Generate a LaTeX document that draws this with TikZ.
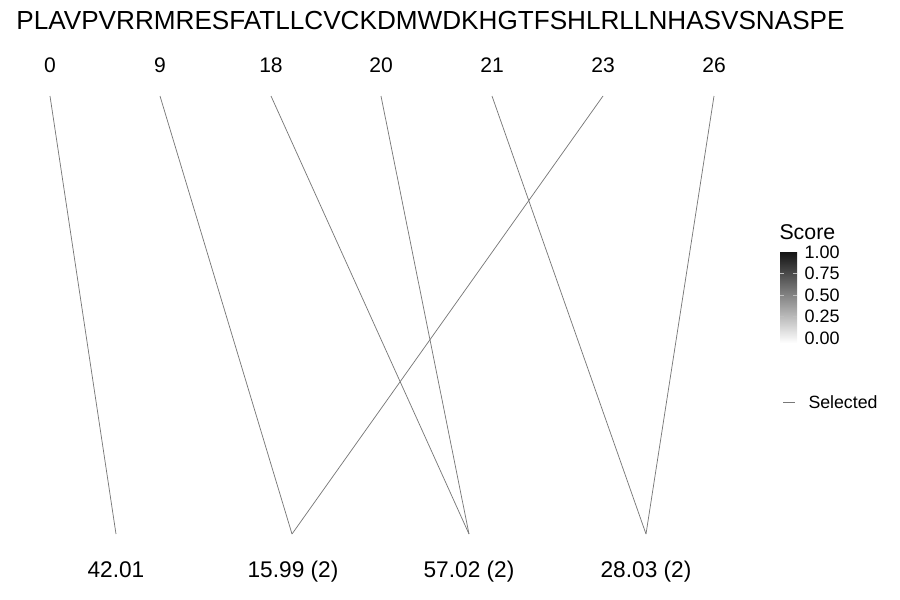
\documentclass[tikz,border=0pt]{standalone}
\usepackage{fontspec}
\setmainfont{Liberation Sans}
\usepackage{tikz}
\usepackage{xcolor}
\tikzset{every picture/.style={line width=0.75pt}}
\tikzset{
  link/.style={draw={rgb,255:red,120;green,120;blue,120}, line width=0.55pt},
  toplabel/.style={anchor=base, inner sep=0pt, font=\fontsize{15.8}{16}\selectfont},
  massl/.style={anchor=base, inner sep=0pt, font=\fontsize{17}{17}\selectfont},
  tickl/.style={anchor=west, inner sep=0pt, font=\fontsize{13.5}{13.5}\selectfont},
  tickm/.style={draw={rgb,255:red,190;green,190;blue,190}, line width=0.5pt}
}

\begin{document}
\begin{tikzpicture}[x=0.75pt,y=0.75pt,yscale=-1,xscale=1]
\useasboundingbox (0,0) rectangle (900,600);

% Text Node
\node (seq) [anchor=base, inner sep=0pt, font=\fontsize{19.6}{20}\selectfont] at (430.5,29) {PLAVPVRRMRESFATLLCVCKDMWDKHGTFSHLRLLNHASVSNASPE};

% Text Node
\node (p0) [toplabel] at (50,72) {0};
\node (p9) [toplabel] at (160,72) {9};
\node (p18) [toplabel] at (271,72) {18};
\node (p20) [toplabel] at (381,72) {20};
\node (p21) [toplabel] at (492,72) {21};
\node (p23) [toplabel] at (603,72) {23};
\node (p26) [toplabel] at (714,72) {26};

% Text Node
\node (m1) [massl] at (116,577) {42.01};
\node (m2) [massl] at (293,577) {15.99 (2)};
\node (m3) [massl] at (469,577) {57.02 (2)};
\node (m4) [massl] at (646,577) {28.03 (2)};

% line ends
\coordinate (t0) at (50,96);
\coordinate (t9) at (160,96);
\coordinate (t18) at (271,96);
\coordinate (t20) at (381,96);
\coordinate (t21) at (492,96);
\coordinate (t23) at (603,96);
\coordinate (t26) at (714,96);
\coordinate (b1) at (116,534);
\coordinate (b2) at (292,534);
\coordinate (b3) at (469,534);
\coordinate (b4) at (646,534);

%Straight Lines
\draw [link] (t0) -- (b1) ;
\draw [link] (t9) -- (b2) ;
\draw [link] (t23) -- (b2) ;
\draw [link] (t18) -- (b3) ;
\draw [link] (t20) -- (b3) ;
\draw [link] (t21) -- (b4) ;
\draw [link] (t26) -- (b4) ;

% Legend
\node (score) [anchor=west, inner sep=0pt, font=\fontsize{16}{16}\selectfont] at (779,232) {Score};
\shade [top color={rgb,255:red,20;green,20;blue,20}, bottom color=white] (780,252) rectangle (797,343);
\draw [tickm] (780,273.3) -- (784,273.3) (793,273.3) -- (797,273.3);
\draw [tickm] (780,295) -- (784,295) (793,295) -- (797,295);
\draw [tickm] (780,316.7) -- (784,316.7) (793,316.7) -- (797,316.7);
\node (s100) [tickl] at (804,252) {1.00};
\node (s075) [tickl] at (804,273.5) {0.75};
\node (s050) [tickl] at (804,295) {0.50};
\node (s025) [tickl] at (804,316.5) {0.25};
\node (s000) [tickl] at (804,338) {0.00};

\coordinate (k1) at (783,402);
\coordinate (k2) at (795,402);
\draw [link] (k1) -- (k2) ;
\node (sel) [anchor=west, inner sep=0pt, font=\fontsize{13.3}{13.3}\selectfont] at (808,402) {Selected};

\end{tikzpicture}
\end{document}
